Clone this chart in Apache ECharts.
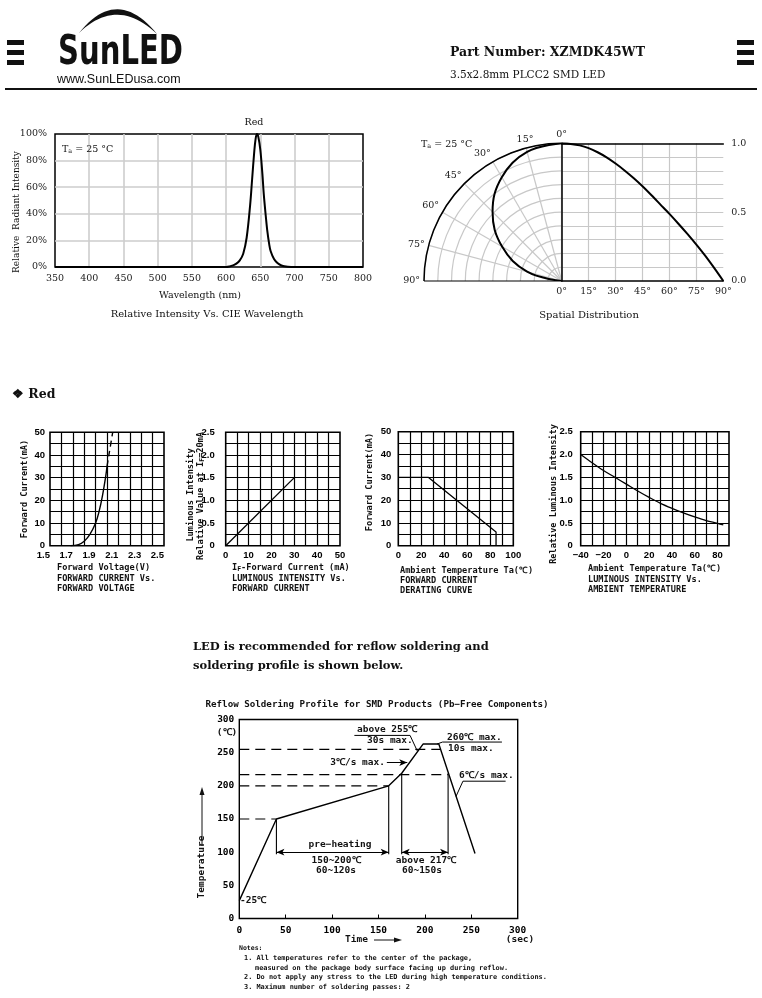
<!DOCTYPE html>
<html><head><meta charset="utf-8">
<script src="https://cdn.jsdelivr.net/npm/echarts@6/dist/echarts.min.js"></script>
<style>html,body{margin:0;padding:0;background:#fff}#c{width:762px;height:998px}</style>
</head><body><div id="c"></div>
<script>
// ---------------- DATA ----------------
// Relative intensity vs wavelength
const specWl  = [350,400,450,500,550,595,600,605,610,615,620,625,630,635,638,641,643,645,647,650,653,655,658,660,663,665,670,675,680,685,690,695,700,750,800];
const specVal = [0,0,0,0,0,0,0,0.004,0.012,0.025,0.05,0.1,0.22,0.46,0.66,0.86,0.96,1.0,0.98,0.88,0.7,0.55,0.38,0.28,0.17,0.12,0.06,0.03,0.013,0.005,0.001,0,0,0,0];
// Spatial distribution (cartesian part)
const spatAngle = [0,5,10,15,20,25,30,35,40,45,50,55,60,65,70,75,80,85,90];
const spatRel   = [1.0,0.995,0.985,0.965,0.935,0.898,0.853,0.803,0.748,0.688,0.623,0.555,0.487,0.416,0.342,0.264,0.182,0.093,0];
// Spatial distribution (polar part)
const polarAngle = [0,15,30,45,60,75,90];
const polarRel   = [1.0,0.97,0.87,0.71,0.5,0.26,0];
// Forward current vs forward voltage
const vfV  = [1.68,1.75,1.8,1.85,1.9,1.93,1.96,1.99,2.0];
const vfI  = [0,0.5,2,5,10,15,22,31,35];
const vfVd = [2.0,2.02,2.05];
const vfId = [35,41,50];
// Luminous intensity vs forward current
const livI = [0,30];
const livL = [0,1.5];
// Derating curve
const derT = [0,26,85,85];
const derI = [30,30,6,0];
// Luminous intensity vs ambient temperature
const ltT = [-40,-30,-20,-10,0,10,20,30,40,50,60,70,80,85];
const ltL = [2.0,1.82,1.65,1.5,1.35,1.2,1.06,0.93,0.82,0.72,0.63,0.55,0.49,0.455];
// Reflow profile
const profT = [0,40,161,175,198,215,254];
const profC = [27,150,200,219,263,263,98];
const dashTemp = [150,200,217,255];
const dashEnd  = [40,161,225,217];
const vertT   = [40,161,175,225];
const vertTop = [150,200,219,219];
const vertBottom = 97;
const arrowTemp = 100;
const leader255 = [[124,276],[184,276],[192,252]];
const leader260 = [[213,263],[219,266],[283,266]];
const leader6   = [[233.5,184],[241,207],[287,207]];

// ---------------- HELPERS ----------------
const SERIF = '"DejaVu Serif"';
const MONO = '"DejaVu Sans Mono"';
const NARROW = '"Liberation Sans Narrow", "Liberation Sans"';
const zip = (a,b)=>a.map((v,i)=>[v,b[i]]);
const T = (text,x,y,font,o={}) => ({type:'text',x,y,rotation:o.rot||0,scaleX:o.sx||1,silent:true,z:100,
  style:{text,font,fill:o.fill||'#111',align:o.align||'left',verticalAlign:o.va||'middle',rich:o.rich}});
const R = (x,y,w,h)=>({type:'rect',silent:true,shape:{x,y,width:w,height:h},style:{fill:'#111'}});
const L = (x1,y1,x2,y2,w)=>({type:'line',silent:true,shape:{x1,y1,x2,y2},style:{stroke:'#111',lineWidth:w||1}});
const P = (pts)=>({type:'polygon',silent:true,shape:{points:pts},style:{fill:'#111'}});
function crescent(){
  const q=(p0,c,p2,t)=>(1-t)*(1-t)*p0+2*(1-t)*t*c+t*t*p2;
  const pts=[];
  for(let i=0;i<=24;i++){const t=i/24;pts.push([q(79,117,157,t),q(33,-15,34,t)]);}
  for(let i=24;i>=0;i--){const t=i/24;pts.push([q(79,117,157,t),q(33,-4,34,t)]);}
  return P(pts);
}

const grids=[], xAxes=[], yAxes=[], series=[];

// ---- grid 0: spectrum
grids.push({left:55,top:134,width:308,height:133,show:true,borderColor:'#000',borderWidth:1.5});
const specLabel = {color:'#222',fontFamily:'DejaVu Serif',fontSize:9.5,showMinLabel:true,showMaxLabel:true};
xAxes.push({gridIndex:0,type:'value',min:350,max:800,interval:50,axisLine:{show:false},axisTick:{show:false},
  splitLine:{show:true,showMinLine:false,showMaxLine:false,lineStyle:{color:'#cdcdcd',width:1.6}},
  axisLabel:Object.assign({margin:7},specLabel)});
yAxes.push({gridIndex:0,type:'value',min:0,max:1,interval:0.2,axisLine:{show:false},axisTick:{show:false},
  splitLine:{show:true,showMinLine:false,showMaxLine:false,lineStyle:{color:'#cdcdcd',width:1.6}},
  axisLabel:Object.assign({margin:8,formatter:v=>Math.round(v*100)+'%'},specLabel)});
series.push({type:'line',xAxisIndex:0,yAxisIndex:0,data:zip(specWl,specVal),showSymbol:false,smooth:0.35,
  lineStyle:{color:'#000',width:2}});

// ---- grid 1: spatial (cartesian half)
grids.push({left:561.7,top:143.3,width:161.6,height:137.7});
xAxes.push({gridIndex:1,type:'value',min:0,max:90,interval:15,position:'bottom',
  axisLine:{show:true,lineStyle:{color:'#000',width:1.5}},axisTick:{show:false},
  splitLine:{show:true,showMinLine:true,showMaxLine:false,lineStyle:{color:'#c8c8c8',width:1.2}},
  axisLabel:Object.assign({margin:6,formatter:'{value}°'},specLabel)});
xAxes.push({gridIndex:1,type:'value',min:0,max:90,position:'top',
  axisLine:{show:true,lineStyle:{color:'#000',width:1.5}},axisTick:{show:false},axisLabel:{show:false},splitLine:{show:false}});
yAxes.push({gridIndex:1,type:'value',min:0,max:1,interval:0.1,position:'right',
  axisLine:{show:true,lineStyle:{color:'#000',width:1.5}},axisTick:{show:false},
  splitLine:{show:true,showMinLine:false,showMaxLine:false,lineStyle:{color:'#c8c8c8',width:1.2}},
  axisLabel:Object.assign({margin:8,formatter:v=>(Math.round(v*10)%5===0?v.toFixed(1):'')},specLabel)});
series.push({type:'line',xAxisIndex:1,yAxisIndex:1,data:zip(spatAngle,spatRel),showSymbol:false,smooth:0.3,
  lineStyle:{color:'#000',width:2}});

// ---- small charts
const monoLabel = {color:'#000',fontFamily:NARROW,fontWeight:'bold',fontSize:9.5,showMinLabel:true,showMaxLabel:true};
function smallAxis(gi,min,max,interval,fmt,margin,align){
  const lab = Object.assign({formatter:fmt,margin:margin},monoLabel);
  if(align) lab.align = align;
  return {gridIndex:gi,type:'value',min,max,interval,axisLine:{show:false},axisTick:{show:false},
    splitLine:{show:true,showMinLine:false,showMaxLine:false,lineStyle:{color:'#000',width:1.2}},
    axisLabel:lab};
}
const every10 = v=>(Math.round(v)%10===0?String(Math.round(v)):'');
const half = v=>{const k=Math.round(v*4); return k%2===0?(k===0?'0':v.toFixed(1)):'';};
const smallGrid = (left,top,width,height)=>({left,top,width,height,show:true,borderColor:'#000',borderWidth:1.6});

grids.push(smallGrid(50,432.3,114,113.4));      // 2
xAxes.push(smallAxis(2,1.5,2.5,0.1,v=>(Math.round(v*10)%2===1?v.toFixed(1):''),5,'right'));
yAxes.push(smallAxis(2,0,50,5,every10,5));
series.push({type:'line',xAxisIndex:xAxes.length-1,yAxisIndex:yAxes.length-1,data:zip(vfV,vfI),showSymbol:false,smooth:0.4,lineStyle:{color:'#000',width:1.4}});
series.push({type:'line',xAxisIndex:xAxes.length-1,yAxisIndex:yAxes.length-1,data:zip(vfVd,vfId),showSymbol:false,smooth:0.3,lineStyle:{color:'#000',width:1.4,type:[6,4]}});

grids.push(smallGrid(225.7,432.3,114.3,113.4)); // 3
xAxes.push(smallAxis(3,0,50,5,every10,5));
yAxes.push(smallAxis(3,0,2.5,0.25,half,11));
series.push({type:'line',xAxisIndex:xAxes.length-1,yAxisIndex:yAxes.length-1,data:zip(livI,livL),showSymbol:false,lineStyle:{color:'#000',width:1.3}});

grids.push(smallGrid(398.3,431.7,115,114));     // 4
xAxes.push(smallAxis(4,0,100,10,v=>(Math.round(v)%20===0?String(Math.round(v)):''),5));
yAxes.push(smallAxis(4,0,50,5,every10,7));
series.push({type:'line',xAxisIndex:xAxes.length-1,yAxisIndex:yAxes.length-1,data:zip(derT,derI),showSymbol:false,lineStyle:{color:'#000',width:1.3}});

grids.push(smallGrid(580.7,431.7,148.3,114));   // 5
xAxes.push(smallAxis(5,-40,90,10,v=>{const r=Math.round(v);return (r%20===0&&r<=80)?String(r).replace('-','\u2212'):'';},5));
yAxes.push(smallAxis(5,0,2.5,0.25,half,8));
series.push({type:'line',xAxisIndex:xAxes.length-1,yAxisIndex:yAxes.length-1,data:zip(ltT,ltL),showSymbol:false,smooth:0.35,lineStyle:{color:'#000',width:1.3}});

// ---- grid 6: reflow
grids.push({left:239.3,top:719.5,width:278.4,height:199,show:true,borderColor:'#000',borderWidth:1.4});
const reflowLabel = {color:'#000',fontFamily:'DejaVu Sans Mono',fontWeight:'bold',fontSize:9.5,showMinLabel:true,showMaxLabel:true};
xAxes.push({gridIndex:6,type:'value',min:0,max:300,interval:50,axisLine:{show:false},
  axisTick:{show:true,inside:true,length:4,lineStyle:{color:'#000'}},splitLine:{show:false},
  axisLabel:Object.assign({margin:7},reflowLabel)});
yAxes.push({gridIndex:6,type:'value',min:0,max:300,interval:50,axisLine:{show:false},axisTick:{show:false},splitLine:{show:false},
  axisLabel:Object.assign({margin:5},reflowLabel)});
const rx = xAxes.length-1, ry = yAxes.length-1;
dashTemp.forEach((t,i)=>series.push({type:'line',xAxisIndex:rx,yAxisIndex:ry,data:[[0,t],[dashEnd[i],t]],showSymbol:false,
  lineStyle:{color:'#000',width:1.2,type:[10,6]}}));
vertT.forEach((t,i)=>series.push({type:'line',xAxisIndex:rx,yAxisIndex:ry,data:[[t,vertTop[i]],[t,vertBottom]],showSymbol:false,
  lineStyle:{color:'#000',width:1.1}}));
[leader255,leader260,leader6].forEach(d=>series.push({type:'line',xAxisIndex:rx,yAxisIndex:ry,data:d,showSymbol:false,
  lineStyle:{color:'#000',width:1}}));
series.push({type:'line',xAxisIndex:rx,yAxisIndex:ry,data:zip(profT,profC),showSymbol:false,
  lineStyle:{color:'#000',width:1.4},
  markLine:{silent:true,symbol:['arrow','arrow'],symbolSize:[5,8],label:{show:false},
    lineStyle:{color:'#000',width:1,type:'solid'},
    data:[[{coord:[vertT[0],arrowTemp]},{coord:[vertT[1],arrowTemp]}],
          [{coord:[vertT[2],arrowTemp]},{coord:[vertT[3],arrowTemp]}],
          [{coord:[159,235],symbol:'none'},{coord:[181,235],symbol:'arrow'}]]}});

// ---- polar series
series.push({type:'line',coordinateSystem:'polar',polarIndex:0,data:polarAngle.map((a,i)=>[polarRel[i],a]),
  showSymbol:false,smooth:0.4,lineStyle:{color:'#000',width:2}});

// ---------------- TEXT / DECOR ----------------
const sub = {s:{fontSize:6.5,fontFamily:'DejaVu Serif',verticalAlign:'bottom',fill:'#111'}};
const subM = {s:{fontSize:6.5,fontFamily:'DejaVu Sans Mono',fontWeight:'bold',verticalAlign:'bottom',fill:'#000'}};
const sf = s=>s+'px '+SERIF, bsf = s=>'bold '+s+'px '+SERIF, mf = s=>'bold '+s+'px '+MONO;
const graphic = [
  // header
  R(7,40,17,5),R(7,50,17,5),R(7,60,17,5),
  R(737,40,17,5),R(737,50,17,5),R(737,60,17,5),
  crescent(),
  T('SunLED',58,53,'bold 41px "DejaVu Sans"',{sx:0.71}),
  T('www.SunLEDusa.com',57,80,'12.5px "Liberation Sans"'),
  T('Part Number: XZMDK45WT',450,53,bsf(12.5)),
  T('3.5x2.8mm PLCC2 SMD LED',450,75,sf(10.5)),
  R(5,88,752,2),
  // spectrum
  T('Red',254,123,sf(9.5),{align:'center'}),
  T('T{s|a} = 25 °C',62,150,sf(9.5),{rich:sub}),
  T('Relative  Radiant Intensity',17,212,sf(9),{rot:Math.PI/2,align:'center'}),
  T('Wavelength (nm)',200,296,sf(9.5),{align:'center'}),
  T('Relative Intensity Vs. CIE Wavelength',207,314,sf(10),{align:'center'}),
  // spatial
  T('T{s|a} = 25 °C',421,145,sf(9.5),{rich:sub}),
  T('Spatial Distribution',589,315,sf(10),{align:'center'}),
  // red
  T('\u2756 Red',12,395,bsf(12.5)),
  // small chart 1
  T('Forward Current(mA)',25,489,mf(8.6),{rot:Math.PI/2,align:'center'}),
  T('Forward Voltage(V)',57,568,mf(8.6)),
  T('FORWARD CURRENT Vs.',57,578.5,mf(8.6)),
  T('FORWARD VOLTAGE',57,588.5,mf(8.6)),
  // small chart 2
  T('Luminous Intensity',191,495,mf(8.6),{rot:Math.PI/2,align:'center'}),
  T('Relative Value at I{s|F}=20mA',201,496,mf(8.6),{rot:Math.PI/2,align:'center',rich:subM}),
  T('I{s|F}-Forward Current (mA)',232,568,mf(8.6),{rich:subM}),
  T('LUMINOUS INTENSITY Vs.',232,578.5,mf(8.6)),
  T('FORWARD CURRENT',232,588.5,mf(8.6)),
  // small chart 3
  T('Forward Current(mA)',370,482,mf(8.6),{rot:Math.PI/2,align:'center'}),
  T('Ambient Temperature Ta(℃)',400,570.5,mf(8.6)),
  T('FORWARD CURRENT',400,581,mf(8.6)),
  T('DERATING CURVE',400,591,mf(8.6)),
  // small chart 4
  T('Relative Luminous Intensity',554,494,mf(8.6),{rot:Math.PI/2,align:'center'}),
  T('Ambient Temperature Ta(℃)',588,569,mf(8.6)),
  T('LUMINOUS INTENSITY Vs.',588,579.5,mf(8.6)),
  T('AMBIENT TEMPERATURE',588,589.5,mf(8.6)),
  // reflow intro
  T('LED is recommended for reflow soldering and',193,647,bsf(11.5)),
  T('soldering profile is shown below.',193,666,bsf(11.5)),
  // reflow chart texts
  T('Reflow Soldering Profile for SMD Products (Pb\u2212Free Components)',377,705,mf(9.2),{align:'center'}),
  T('(℃)',227,733,mf(9.5),{align:'center'}),
  T('above 255℃',357,730,mf(9.5)),
  T('30s max.',367,741,mf(9.5)),
  T('260℃ max.',447,738,mf(9.5)),
  T('10s max.',448,749,mf(9.5)),
  T('3℃/s max.',385,763,mf(9.5),{align:'right'}),
  T('6℃/s max.',459,776,mf(9.5)),
  T('pre\u2212heating',340,845,mf(9.5),{align:'center'}),
  T('150~200℃',336,861,mf(9.5),{align:'center'}),
  T('60~120s',336,871,mf(9.5),{align:'center'}),
  T('above 217℃',426,861,mf(9.5),{align:'center'}),
  T('60~150s',422,871,mf(9.5),{align:'center'}),
  T('-25℃',240,901,mf(9.5)),
  T('Temperature',202,867,mf(9.5),{rot:Math.PI/2,align:'center'}),
  L(202,846,202,792,1), P([[202,787],[199.5,795],[204.5,795]]),
  T('Time',345,940,mf(9.5)),
  L(374,940,396,940,1), P([[402,940],[394,937.5],[394,942.5]]),
  T('(sec)',520,940,mf(9.5),{align:'center'}),
  // notes
  T('Notes:',239,948,mf(6.5)),
  T('1. All temperatures refer to the center of the package,',244,958,mf(6.9)),
  T('measured on the package body surface facing up during reflow.',255,968,mf(6.9)),
  T('2. Do not apply any stress to the LED during high temperature conditions.',244,977.5,mf(6.9)),
  T('3. Maximum number of soldering passes: 2',244,987,mf(6.9))
];

const option = {
  animation:false,
  backgroundColor:'#fff',
  grid:grids, xAxis:xAxes, yAxis:yAxes,
  polar:{center:[561.7,281],radius:137.7},
  angleAxis:{polarIndex:0,type:'value',startAngle:90,endAngle:180,clockwise:false,min:0,max:90,interval:15,
    axisLine:{show:true,lineStyle:{color:'#000',width:1.5}},axisTick:{show:false},
    axisLabel:{formatter:'{value}°',color:'#222',fontFamily:'DejaVu Serif',fontSize:9.5,margin:4},
    splitLine:{show:true,lineStyle:{color:['#c8c8c8','#c8c8c8','#c8c8c8','#c8c8c8','#c8c8c8','#c8c8c8','#000'],width:1.2}}},
  radiusAxis:{polarIndex:0,type:'value',min:0,max:1,interval:0.1,axisLine:{show:false},axisTick:{show:false},axisLabel:{show:false},
    splitLine:{show:true,lineStyle:{color:'#c8c8c8',width:1.2}}},
  series,
  graphic
};
const chart = echarts.init(document.getElementById('c'));
chart.setOption(option);
</script>
</body></html>
